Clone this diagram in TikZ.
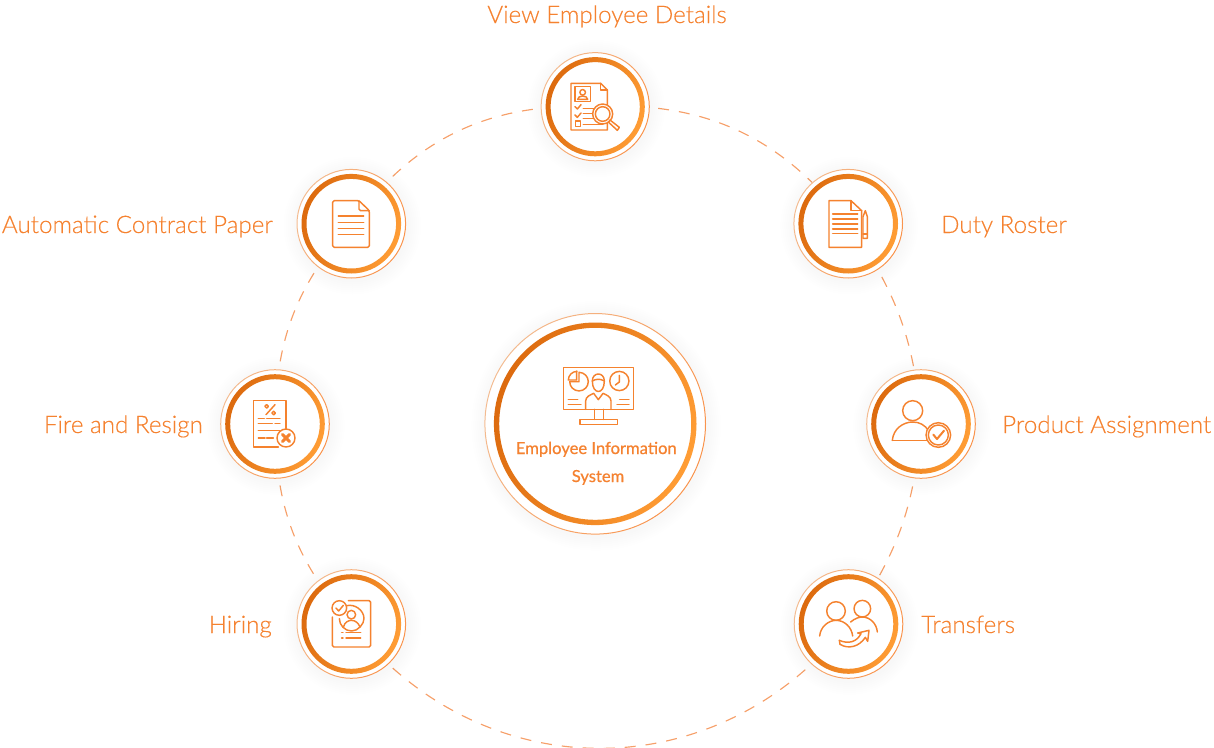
\documentclass[tikz,border=0pt]{standalone}
\usepackage{fontspec}
\setmainfont{Lato}[UprightFont=* Light,UprightFeatures={FakeBold=0.25},BoldFont=*,BoldFeatures={FakeBold=0.7}]
\usetikzlibrary{backgrounds}
\definecolor{ink}{HTML}{F5822E}
\definecolor{txt}{HTML}{F58230}
\definecolor{ringdark}{HTML}{DC6A0E}
\definecolor{ringlight}{HTML}{FF9D35}
\definecolor{hairlow}{HTML}{F3BC92}
\definecolor{hairhigh}{HTML}{F9924A}
\definecolor{dashc}{HTML}{F6A06A}
\tikzset{
  hubnode/.style={circle,fill=white,draw=none,inner sep=0pt},
  icon/.style={draw=ink,line width=1.45pt,line join=round,line cap=round},
  iconfill/.style={icon,fill=white},
  label/.style={text=txt,font=\fontsize{24.2}{28}\selectfont,inner sep=0pt},
  hublabel/.style={text=txt,font=\fontsize{16.6}{18}\selectfont\bfseries,inner sep=0pt},
  orbit/.style={draw=dashc,line width=1.15pt,dash pattern=on 11pt off 10pt},
  zoomgrid/.style={shift={(#1)},x=.33333pt,y=-.33333pt},
}
\newcommand{\hub}[6]{% name,x,y,outer,ring outer,ring inner
  \foreach \g in {2,4,...,14}{\fill[black,opacity=.004] (#2+1,#3+2) circle[radius=#4pt+\g pt];}
  \node[hubnode,minimum size=2*#4 pt] (#1) at (#2,#3) {};
  \path[even odd rule,left color=hairlow,right color=hairhigh,shading angle=65] (#1.center) circle[radius=#4pt] (#1.center) circle[radius=#4pt-1pt];
  \path[even odd rule,left color=ringdark,right color=ringlight,shading angle=70] (#1.center) circle[radius=#5pt] (#1.center) circle[radius=#6pt];
}
\begin{document}
\begin{tikzpicture}[x=1pt,y=-1pt]
\useasboundingbox (0,0) rectangle (1214,747);

\hub{ncenter}{595.2}{423.8}{110.8}{101.3}{96}
\hub{ntop}{595.2}{106.7}{54.6}{49.6}{44.6}
\hub{ntr}{848.2}{223.7}{54.8}{49.8}{44.8}
\hub{nr}{921}{424}{54.8}{49.8}{44.8}
\hub{nbr}{848.5}{624}{54.8}{49.8}{44.8}
\hub{nbl}{351.3}{624}{54.8}{49.8}{44.8}
\hub{nl}{275}{424}{54.8}{49.8}{44.8}
\hub{ntl}{351.3}{223.7}{54.8}{49.8}{44.8}

\begin{pgfonlayer}{background}
\draw[orbit] (ntop.center) to[bend left=28] (ntr.center);
\draw[orbit] (ntr.center) to[bend left=15.5] (nr.center);
\draw[orbit] (nr.center) to[bend left=15.5] (nbr.center);
\draw[orbit] (nbr.center) to[bend left=51.7,looseness=1.09] (nbl.center);
\draw[orbit] (nbl.center) to[bend left=20.5] (nl.center);
\draw[orbit] (nl.center) to[bend left=20.5] (ntl.center);
\draw[orbit] (ntl.center) to[bend left=28] (ntop.center);
\end{pgfonlayer}

\node[label,anchor=base] (lt) at (607,23) {View Employee Details};
\node[label,anchor=base west] (ltr) at (941,233) {Duty Roster};
\node[label,anchor=base west] (lr) at (1002,433) {Product Assignment};
\node[label,anchor=base west] (lbr) at (921,633) {Transfers};
\node[label,anchor=base east] (ltl) at (273,233) {Automatic Contract Paper};
\node[label,anchor=base east] (ll) at (203,433) {Fire and Resign};
\node[label,anchor=base east] (lbl) at (272,633) {Hiring};
\node[hublabel,anchor=base] (hl1) at (596.3,454) {Employee Information};
\node[hublabel,anchor=base] (hl2) at (598,482) {System};

% centre icon
\begin{scope}[zoomgrid={475,305}]
\draw[icon] (266,187) rectangle (475,313);
\draw[icon] (358,313)--(358,343) (385,313)--(385,343);
\draw[icon] (315,343) rectangle (427,358);
\draw[icon] (312,202) arc[start angle=90,end angle=-180,radius=9.3pt] -- (312,230) -- cycle;
\draw[iconfill] (305,198) -- (305,225) -- (280,225) arc[start angle=180,end angle=90,radius=8.6pt] -- cycle;
\draw[iconfill] (352,228) .. controls (352,200) and (388,200) .. (388,228) .. controls (388,270) and (352,270) .. (352,228) -- cycle;
\draw[icon] (352,228) .. controls (362,222) and (375,220) .. (388,228);
\draw[icon] (332,313) -- (332,288) .. controls (332,275) and (345,270) .. (356,265) -- (370,284) -- (384,265) .. controls (395,270) and (408,275) .. (408,288) -- (408,313);
\draw[icon] (433,228) circle[radius=9.6pt];
\draw[icon] (433,211) -- (433,231) -- (421,240);
\draw[icon] (280,284)--(308,284) (280,298)--(318,298);
\draw[icon] (434,284)--(462,284) (426,298)--(462,298);
\end{scope}

% top icon
\begin{scope}[zoomgrid={530,40}]
\draw[icon] (123,130) -- (212,130) -- (232,150) -- (232,270) -- (123,270) -- cycle;
\draw[icon] (212,130) -- (212,150) -- (232,150);
\draw[icon] (135,140) rectangle (182,185);
\draw[icon] (158,157) circle[radius=2.8pt];
\draw[icon] (143,178) .. controls (143,165) and (173,165) .. (173,178) -- cycle;
\draw[icon] (135,200) -- (142,207) -- (153,194) (135,225) -- (142,232) -- (153,219);
\draw[icon] (160,205)--(195,205) (160,220)--(195,220) (160,235)--(195,235) (160,253)--(218,253);
\draw[icon] (137,243) rectangle (152,259);
\draw[iconfill] (218,222) circle[radius=10pt];
\draw[icon] (218,222) circle[radius=7.3pt];
\draw[iconfill] (240,240) -- (268,262) -- (262,271) -- (236,247) -- cycle;
\end{scope}

% top-left icon
\begin{scope}[zoomgrid={290,160}]
\draw[icon,rounded corners=1.5pt] (128,122) -- (207,122) -- (238,152) -- (238,262) -- (128,262) -- cycle;
\draw[icon,rounded corners=1.5pt] (207,122) -- (207,152) -- (238,152);
\draw[icon] (145,168)--(221,168) (145,187)--(221,187) (145,205)--(221,205) (145,224)--(221,224);
\end{scope}

% top-right icon
\begin{scope}[zoomgrid={785,160}]
\draw[icon] (132,122) -- (198,122) -- (230,152) -- (230,262) -- (132,262) -- cycle;
\draw[icon] (198,122) -- (198,152) -- (230,152);
\draw[icon] (143,162)--(218,162) (143,177)--(218,177) (143,192)--(218,192) (143,207)--(218,207) (143,220)--(218,220);
\draw[icon] (234,170) -- (241,152) -- (247,170) -- (247,235) -- (234,235) -- cycle;
\draw[icon] (234,222)--(247,222);
\end{scope}

% left icon
\begin{scope}[zoomgrid={215,362}]
\draw[icon] (190,255) -- (115,255) -- (115,115) -- (213,115) -- (213,200);
\draw[icon] (153,158)--(180,128);
\draw[icon] (155,133) circle[radius=1.8pt] (176,153) circle[radius=1.8pt];
\draw[icon] (130,170)--(148,170) (155,170)--(195,170) (130,185)--(172,185) (180,185)--(195,185) (130,205)--(195,205) (130,228)--(150,228) (155,228)--(175,228);
\draw[iconfill] (213,228) circle[radius=9pt];
\draw[draw=ink,line width=3pt,line cap=round] (202,217)--(224,239) (224,217)--(202,239);
\end{scope}

% right icon
\begin{scope}[zoomgrid={860,362}]
\draw[icon] (158,146) circle[radius=10pt];
\draw[icon] (97,235) .. controls (100,200) and (130,180) .. (158,180) .. controls (180,180) and (195,190) .. (205,205);
\draw[icon] (97,235)--(200,235);
\draw[iconfill] (235,219) circle[radius=12.3pt];
\draw[icon] (235,219) circle[radius=10pt];
\draw[draw=ink,line width=2pt,line join=round,line cap=round] (220,218) -- (231,231) -- (252,206);
\end{scope}

% bottom-left icon
\begin{scope}[zoomgrid={290,562}]
\draw[icon,rounded corners=1.5pt] (175,116) -- (242,116) -- (242,255) -- (127,255) -- (127,165);
\draw[icon] (170,131) .. controls (195,125) and (222,145) .. (222,170) .. controls (222,185) and (205,207) .. (185,207) .. controls (165,207) and (148,190) .. (148,170);
\draw[icon] (184,158) circle[radius=4.3pt];
\draw[icon] (160,195) .. controls (165,180) and (175,175) .. (184,175) .. controls (195,175) and (205,182) .. (210,195);
\draw[iconfill] (148,138) circle[radius=7.3pt];
\draw[icon] (138,138) -- (146,147) -- (160,130);
\draw[icon] (155,212)--(159,212) (168,212)--(212,212) (155,228)--(159,228) (168,228)--(212,228);
\end{scope}

% bottom-right icon
\begin{scope}[zoomgrid={785,562}]
\draw[icon] (153,147) circle[radius=9.3pt];
\draw[icon] (232,140) circle[radius=8.3pt];
\draw[icon] (104,222) .. controls (106,195) and (130,175) .. (153,175) .. controls (178,175) and (200,195) .. (203,222);
\draw[icon] (197,180) .. controls (210,168) and (225,165) .. (232,165) .. controls (255,165) and (275,185) .. (277,210);
\draw[iconfill] (163,235) .. controls (190,247) and (215,240) .. (228,215) -- (218,213) -- (252,205) -- (248,238) -- (241,226) .. controls (222,255) and (190,262) .. (165,247);
\draw[icon] (163,235) -- (165,247);
\end{scope}
\end{tikzpicture}
\end{document}
